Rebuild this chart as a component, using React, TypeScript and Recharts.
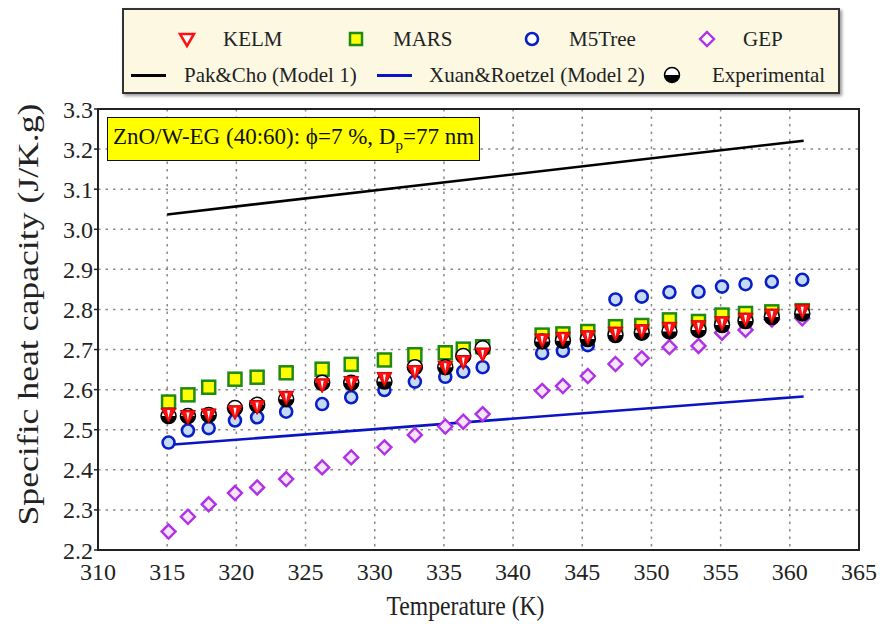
import React from "react";
import {
  ComposedChart, Scatter, Line, XAxis, YAxis, CartesianGrid, ReferenceArea,
} from "recharts";

// Temperature points (K)
const temperature = [
  315.1, 316.5, 318.0, 319.9, 321.5, 323.6, 326.2, 328.3, 330.7, 332.9, 335.1, 336.4, 337.8,
  342.1, 343.6, 345.4, 347.4, 349.3, 351.3, 353.4, 355.1, 356.8, 358.7, 360.9,
];

// Specific heat capacity (J/K.g)
const experimental = [
  2.534, 2.534, 2.537, 2.554, 2.562, 2.576, 2.617, 2.617, 2.620, 2.656, 2.656, 2.684, 2.703,
  2.720, 2.722, 2.726, 2.736, 2.742, 2.745, 2.749, 2.761, 2.771, 2.781, 2.790,
];
const kelm = [
  2.539, 2.533, 2.537, 2.545, 2.558, 2.581, 2.612, 2.618, 2.628, 2.645, 2.656, 2.670, 2.689,
  2.724, 2.728, 2.732, 2.741, 2.747, 2.753, 2.757, 2.767, 2.776, 2.786, 2.797,
];
const mars = [
  2.569, 2.587, 2.606, 2.626, 2.631, 2.642, 2.651, 2.663, 2.674, 2.687, 2.692, 2.701, 2.707,
  2.736, 2.739, 2.745, 2.757, 2.760, 2.774, 2.770, 2.786, 2.790, 2.794, 2.797,
];
const m5tree = [
  2.468, 2.498, 2.504, 2.523, 2.531, 2.545, 2.564, 2.581, 2.599, 2.620, 2.632, 2.645, 2.656,
  2.691, 2.697, 2.711, 2.825, 2.832, 2.843, 2.844, 2.857, 2.863, 2.869, 2.874,
];
const gep = [
  2.246, 2.283, 2.314, 2.342, 2.356, 2.377, 2.406, 2.431, 2.456, 2.487, 2.508, 2.520, 2.539,
  2.597, 2.609, 2.634, 2.664, 2.678, 2.706, 2.709, 2.742, 2.749, 2.775, 2.778,
];

// Model correlations (straight lines over the measured range)
const modelT = [315, 361];
const pakCho = [3.037, 3.221];
const xuanRoetzel = [2.462, 2.583];

const xTicks = [310, 315, 320, 325, 330, 335, 340, 345, 350, 355, 360, 365];
const yTicks = [2.2, 2.3, 2.4, 2.5, 2.6, 2.7, 2.8, 2.9, 3.0, 3.1, 3.2, 3.3];

const toPoints = (t: number[], ys: number[]) => t.map((v, i) => ({ t: v, cp: ys[i] }));

const FONT = "'Liberation Serif', 'Times New Roman', serif";

type ShapeProps = { cx?: number; cy?: number };

const KelmShape = ({ cx = 0, cy = 0 }: ShapeProps) => (
  <g>
    <path d={`M${cx - 7.5},${cy - 6} L${cx + 7.5},${cy - 6} L${cx},${cy + 8} Z`} fill="#ff1010" stroke="#d00000" strokeWidth={1} />
    <path d={`M${cx - 1.5},${cy - 4} L${cx + 1.5},${cy - 4} L${cx},${cy + 4} Z`} fill="#ffffff" />
  </g>
);

const MarsShape = ({ cx = 0, cy = 0 }: ShapeProps) => (
  <rect x={cx - 6.5} y={cy - 6.5} width={13} height={13} fill="#ffff00" stroke="#1f8a10" strokeWidth={2.5} />
);

const M5Shape = ({ cx = 0, cy = 0 }: ShapeProps) => (
  <circle cx={cx} cy={cy} r={6} fill="#c4dbf3" stroke="#0a1ec8" strokeWidth={2.6} />
);

const GepShape = ({ cx = 0, cy = 0 }: ShapeProps) => (
  <path d={`M${cx},${cy - 7} L${cx + 7},${cy} L${cx},${cy + 7} L${cx - 7},${cy} Z`} fill="#f6e4fb" stroke="#b030e8" strokeWidth={2.4} />
);

const ExpShape = ({ cx = 0, cy = 0 }: ShapeProps) => (
  <g>
    <circle cx={cx} cy={cy} r={7.5} fill="#ffffff" stroke="#000" strokeWidth={1.5} />
    <path d={`M${cx - 7.5},${cy} A7.5,7.5 0 0 0 ${cx + 7.5},${cy} Z`} fill="#000" />
  </g>
);

// axis titles are stretched/condensed with textLength to get the tall serif look
const YTitle = (props: any) => {
  const vb = props.viewBox || { x: 0, y: 0, width: 0, height: 0 };
  const cx = vb.x + 28;
  const cy = vb.y + vb.height / 2 - 15;
  return (
    <text x={cx} y={cy} transform={`rotate(-90 ${cx} ${cy})`} textAnchor="middle" dominantBaseline="central"
      fontFamily={FONT} fontSize={29} fill="#222" textLength={422} lengthAdjust="spacingAndGlyphs">
      Specific heat capacity (J/K.g)
    </text>
  );
};

const XTitle = (props: any) => {
  const vb = props.viewBox || { x: 0, y: 0, width: 0, height: 0 };
  return (
    <text x={vb.x + vb.width / 2 - 13} y={vb.y + 56} textAnchor="middle" dominantBaseline="central"
      fontFamily={FONT} fontSize={27} fill="#222" textLength={158} lengthAdjust="spacingAndGlyphs">
      Temperature (K)
    </text>
  );
};

const LegendMarker = ({ children }: { children: React.ReactNode }) => (
  <svg width={24} height={24} style={{ position: "absolute", left: -12, top: -12, overflow: "visible" }}>
    {children}
  </svg>
);

const legendText: React.CSSProperties = {
  position: "absolute", fontFamily: FONT, fontSize: 21, color: "#222", whiteSpace: "nowrap",
  transform: "translateY(-50%)",
};

const Item = ({ x, y, textX, label, marker }: { x: number; y: number; textX: number; label: string; marker: React.ReactNode }) => (
  <>
    <div style={{ position: "absolute", left: x, top: y }}>{marker}</div>
    <div style={{ ...legendText, left: textX, top: y }}>{label}</div>
  </>
);

const LineMark = ({ color }: { color: string }) => (
  <div style={{ position: "absolute", left: -17, top: -1.5, width: 35, height: 3, background: color }} />
);

export default function App() {
  return (
    <div style={{ position: "absolute", left: 0, top: 0, width: 880, height: 627, background: "#fff", fontFamily: FONT }}>
      <ComposedChart width={880} height={627} margin={{ top: 109, right: 21, bottom: 0, left: 0 }}>
        <CartesianGrid stroke="#8a8a8a" strokeDasharray="2.5 5" strokeWidth={1.5}
          horizontalValues={yTicks.slice(1, -1)} verticalValues={xTicks.slice(1, -1)} />
        <XAxis type="number" dataKey="t" domain={[310, 365]} ticks={xTicks} height={77}
          allowDataOverflow interval={0}
          tick={{ fontFamily: FONT, fontSize: 24, fill: "#222" }}
          tickLine={false} tickMargin={7}
          axisLine={{ stroke: "#222", strokeWidth: 2 }}
          label={<XTitle />} />
        <YAxis type="number" dataKey="cp" domain={[2.2, 3.3]} ticks={yTicks} width={98}
          allowDataOverflow interval={0}
          tickFormatter={(v: number) => v.toFixed(1)}
          tick={{ fontFamily: FONT, fontSize: 24, fill: "#222" }}
          tickSize={4} tickMargin={1}
          tickLine={{ stroke: "#222", strokeWidth: 1.5 }}
          axisLine={{ stroke: "#222", strokeWidth: 2 }}
          label={<YTitle />} />
        <ReferenceArea x1={310} x2={365} y1={2.2} y2={3.3} fill="none" stroke="#222" strokeWidth={2} ifOverflow="visible" />

        <Line data={toPoints(modelT, pakCho)} dataKey="cp" stroke="#000" strokeWidth={2.6} dot={false} isAnimationActive={false} />
        <Line data={toPoints(modelT, xuanRoetzel)} dataKey="cp" stroke="#0a14c0" strokeWidth={2.6} dot={false} isAnimationActive={false} />

        <Scatter data={toPoints(temperature, gep)} shape={<GepShape />} isAnimationActive={false} />
        <Scatter data={toPoints(temperature, m5tree)} shape={<M5Shape />} isAnimationActive={false} />
        <Scatter data={toPoints(temperature, mars)} shape={<MarsShape />} isAnimationActive={false} />
        <Scatter data={toPoints(temperature, experimental)} shape={<ExpShape />} isAnimationActive={false} />
        <Scatter data={toPoints(temperature, kelm)} shape={<KelmShape />} isAnimationActive={false} />
      </ComposedChart>

      {/* info box */}
      <div style={{
        position: "absolute", left: 107, top: 117, width: 371, height: 42, background: "#ffff00",
        border: "1.5px solid #111", fontSize: 23, color: "#111", display: "flex", alignItems: "center",
        justifyContent: "center", whiteSpace: "nowrap",
      }}>
        <span>ZnO/W-EG (40:60): ϕ=7 %, D<sub style={{ fontSize: 15 }}>p</sub>=77 nm</span>
      </div>

      {/* legend */}
      <div style={{
        position: "absolute", left: 122, top: 8, width: 714, height: 82, background: "#fcf8e2",
        border: "2px solid #333", boxShadow: "2px 2px 3px #999",
      }}>
        <Item x={63} y={29} textX={99} label="KELM" marker={
          <LegendMarker>
            <path d="M5,7 L19,7 L12,19 Z" fill="#fff" stroke="#ff1010" strokeWidth={2.5} />
          </LegendMarker>} />
        <Item x={232} y={29} textX={269} label="MARS" marker={
          <LegendMarker><rect x={6} y={6} width={12} height={12} fill="#ffff00" stroke="#1f8a10" strokeWidth={2.5} /></LegendMarker>} />
        <Item x={408} y={29} textX={445} label="M5Tree" marker={
          <LegendMarker><circle cx={12} cy={12} r={6} fill="#fff" stroke="#0a1ec8" strokeWidth={2.6} /></LegendMarker>} />
        <Item x={583} y={29} textX={619} label="GEP" marker={
          <LegendMarker><path d="M12,5 L19,12 L12,19 L5,12 Z" fill="#fff" stroke="#b030e8" strokeWidth={2.4} /></LegendMarker>} />

        <Item x={24} y={65} textX={60} label="Pak&Cho (Model 1)" marker={<LineMark color="#000" />} />
        <Item x={270} y={65} textX={305} label="Xuan&Roetzel (Model 2)" marker={<LineMark color="#0a14c0" />} />
        <Item x={548} y={65} textX={588} label="Experimental" marker={
          <LegendMarker>
            <circle cx={12} cy={12} r={7.5} fill="#fff" stroke="#000" strokeWidth={1.5} />
            <path d="M4.5,12 A7.5,7.5 0 0 0 19.5,12 Z" fill="#000" />
          </LegendMarker>} />
      </div>
    </div>
  );
}
